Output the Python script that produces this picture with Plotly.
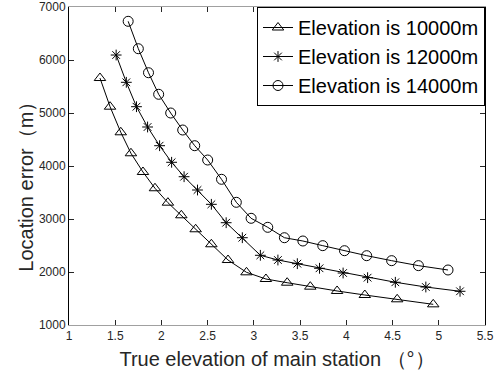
import plotly.graph_objects as go

x10 = [1.335, 1.444, 1.56, 1.67, 1.80, 1.93, 2.07, 2.215, 2.37, 2.54, 2.72, 2.92, 3.13, 3.36, 3.61, 3.90, 4.20, 4.55, 4.94]
y10 = [5660, 5119, 4636, 4240, 3887, 3580, 3308, 3070, 2806, 2523, 2226, 1994, 1868, 1798, 1723, 1642, 1566, 1485, 1390]

x12 = [1.51, 1.62, 1.73, 1.85, 1.98, 2.11, 2.245, 2.39, 2.54, 2.70, 2.875, 3.07, 3.26, 3.47, 3.71, 3.965, 4.23, 4.53, 4.86, 5.23]
y12 = [6094, 5579, 5119, 4736, 4383, 4070, 3798, 3547, 3277, 2930, 2647, 2315, 2226, 2157, 2070, 1981, 1893, 1806, 1717, 1636]

x14 = [1.64, 1.75, 1.86, 1.97, 2.10, 2.23, 2.36, 2.50, 2.65, 2.81, 2.97, 3.15, 3.33, 3.53, 3.745, 3.98, 4.22, 4.49, 4.78, 5.10]
y14 = [6730, 6213, 5760, 5353, 5000, 4679, 4383, 4113, 3749, 3315, 3013, 2843, 2647, 2585, 2497, 2402, 2308, 2214, 2120, 2038]

names = ["Elevation is 10000m", "Elevation is 12000m", "Elevation is 14000m"]
symbols = ["triangle-up-open", "asterisk-open", "circle-open"]
sizes = [10, 9, 10]

x_ticks = [1, 1.5, 2, 2.5, 3, 3.5, 4, 4.5, 5, 5.5]
x_labels = ["1", "1.5", "2", "2.5", "3", "3.5", "4", "4.5", "5", "5.5"]
y_ticks = [1000, 2000, 3000, 4000, 5000, 6000, 7000]

x_title = "True elevation of main station （°）"
y_title = "Location error（m）"

fig = go.Figure()
for xs, ys, nm, sym, sz in zip([x10, x12, x14], [y10, y12, y14], names, symbols, sizes):
    fig.add_trace(go.Scatter(
        x=xs, y=ys, name=nm, mode="lines+markers",
        line=dict(color="black", width=1),
        marker=dict(symbol=sym, size=sz, color="black", line=dict(color="black", width=1)),
    ))

font_family = "Liberation Sans, Arial, sans-serif"
fig.update_layout(
    width=501, height=376,
    margin=dict(l=69, r=16, t=7, b=51),
    paper_bgcolor="white", plot_bgcolor="white",
    font=dict(family=font_family, color="#262626"),
    showlegend=True,
    legend=dict(
        x=1, y=1, xanchor="right", yanchor="top",
        bgcolor="white", bordercolor="black", borderwidth=1,
        font=dict(size=20, color="black", family=font_family),
        tracegroupgap=0,
    ),
    xaxis=dict(
        range=[1, 5.5], tickvals=x_ticks, ticktext=x_labels,
        ticks="inside", ticklen=5, tickcolor="#262626",
        showline=True, linecolor="#a0a0a0", linewidth=1, mirror="allticks",
        showgrid=False, zeroline=False, automargin=False,
        tickfont=dict(size=12, color="#262626"),
        title=dict(text=x_title, font=dict(size=20, color="#262626"), standoff=9),
    ),
    yaxis=dict(
        range=[1000, 7000], tickvals=y_ticks,
        ticks="inside", ticklen=5, tickcolor="#262626",
        showline=True, linecolor="black", linewidth=1, mirror="allticks",
        showgrid=False, zeroline=False, automargin=False,
        tickfont=dict(size=12, color="#262626"),
    ),
    annotations=[dict(
        text=y_title, textangle=-90, showarrow=False,
        xref="paper", yref="paper", x=-0.104, y=0.45,
        xanchor="center", yanchor="middle",
        font=dict(size=20, color="#262626", family=font_family),
    )],
)

fig.write_html("out.html", config={"displayModeBar": False},
               post_script="document.body.style.margin='0';")
